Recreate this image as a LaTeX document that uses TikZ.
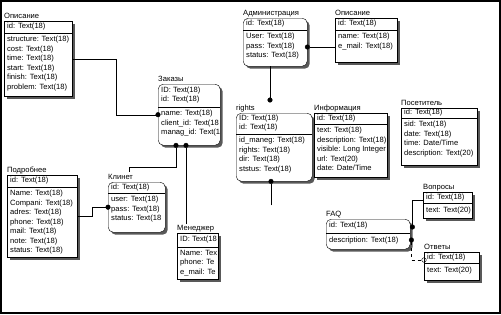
\documentclass[tikz,border=0pt]{standalone}
\usepackage{fontspec}
\setmainfont{Liberation Sans}
\usepackage{tikz}
\usetikzlibrary{arrows.meta,calc,shadows}
\newcommand{\entfont}{\fontsize{7.6pt}{9.5pt}\selectfont}
% entity: name, style, corner, width, header height, height, title, key, attributes
\newcommand{\entity}[9]{%
  \node[#2, minimum width=#4pt, minimum height=#6pt, anchor=north west] (#1) at #3 {};
  \node[enttitle] (#1-t) at ($(#1.north west)+(0,-2.5)$) {#7};
  \draw ($(#1.north west)+(0,#5)$) -- ($(#1.north east)+(0,#5)$);
  \node[enttext, anchor=west] (#1-k) at ($(#1.north west)+(0,#5/2)$) {#8};
  \node[enttext, anchor=north west, inner ysep=3pt] (#1-a) at ($(#1.north west)+(0,#5)$) {#9};
}

\begin{document}
\begin{tikzpicture}[x=1pt, y=-1pt,
    ent/.style={draw, fill=white, inner sep=0pt,
                drop shadow={shadow xshift=2.5pt, shadow yshift=-2.5pt, fill=black!65, opacity=1}},
    entr/.style={ent, rounded corners=5pt},
    enttext/.style={inner xsep=3pt, inner ysep=0pt, align=left, font=\entfont,
                    execute at begin node=\strut},
    enttitle/.style={anchor=base west, inner sep=0pt, font=\entfont},
    rel/.style={-{Circle[length=5pt]}, shorten >=-2.5pt},
    relo/.style={{Circle[length=5pt]}-{Circle[open,length=5pt]}, shorten <=-2.5pt, shorten >=-2.5pt, dashed}
  ]
  \useasboundingbox (0,0) rectangle (501,314);
  \draw[line width=2pt] (1,1) rectangle (500,313);

  \entity{opisA}{ent}{(4,21)}{68}{12}{75}{Описание}{id: Text(18)}%
    {structure: Text(18)\\cost: Text(18)\\time: Text(18)\\start: Text(18)\\finish: Text(18)\\problem: Text(18)}
  \entity{zakaz}{entr}{(158,84)}{62}{23}{61}{Заказы}{ID: Text(18)\\id: Text(18)}%
    {name: Text(18)\\client\_id: Text(18\\manag\_id: Text(1}
  \entity{admin}{entr}{(243,18)}{64}{12}{48}{Администрация}{id: Text(18)}%
    {User: Text(18)\\pass: Text(18)\\status: Text(18)}
  \entity{opisB}{ent}{(335,18)}{62}{12}{44}{Описание}{id: Text(18)}%
    {name: Text(18)\\e\_mail: Text(18)}
  \entity{rights}{entr}{(236,113)}{76}{21}{68}{rights}{ID: Text(18)\\id: Text(18)}%
    {id\_maneg: Text(18)\\rights: Text(18)\\dir: Text(18)\\ststus: Text(18)}
  \entity{info}{ent}{(314,113)}{73}{11}{64}{Информация}{id: Text(18)}%
    {text: Text(18)\\description: Text(18)\\visible: Long Integer\\url: Text(20)\\date: Date/Time}
  \entity{posit}{ent}{(401,108)}{76}{10}{57}{Посетитель}{id: Text(18)}%
    {sid: Text(18)\\date: Text(18)\\time: Date/Time\\description: Text(20)}
  \entity{podr}{ent}{(7,175)}{70}{12}{82}{Подробнее}{id: Text(18)}%
    {Name: Text(18)\\Compani: Text(18)\\adres: Text(18)\\phone: Text(18)\\mail: Text(18)\\note: Text(18)\\status: Text(18)}
  \entity{klient}{entr}{(108,182)}{57}{11}{50}{Клинет}{id: Text(18)}%
    {user: Text(18)\\pass: Text(18)\\status: Text(18}
  \entity{menedzh}{ent}{(177,233)}{41}{14}{46}{Менеджер}{ID: Text(18}%
    {Name: Tex\\phone: Te\\e\_mail: Te}
  \entity{faq}{entr}{(326,219)}{84}{14}{30}{FAQ}{id: Text(18)}%
    {description: Text(18)}
  \entity{vopr}{ent}{(423,192)}{49}{11}{26}{Вопросы}{id: Text(18)}%
    {text: Text(20)}
  \entity{otvet}{ent}{(424,252)}{55}{11}{28}{Ответы}{id: Text(18)}%
    {text: Text(20)}

  % relations
  \draw[rel] (opisA.east) -- ++(44,0) |- (zakaz.west);
  \draw[rel] ($(klient.north west)+(21,-10)$) -- ++(0,-5) -| ($(zakaz.south west)+(18,0)$);
  \draw[rel] ($(menedzh.north west)+(9,-9)$) -- ($(zakaz.south west)+(28,0)$);
  \draw[rel] ($(admin.south west)+(27,0)$) -- ($(rights.north west)+(34,-13)$);
  \draw[rel] ($(rights.south west)+(35,24)$) -- ($(rights.south west)+(35,0)$);
  \draw[rel] ($(opisB.north west)+(0,29)$) -- ($(admin.north east)+(0,29)$);
  \draw[rel] (podr.east) -- ++(15,0) |- (klient.west);
  \draw[rel] ($(vopr.north west)+(0,8)$) -| ($(faq.north east)+(2,8)$);
  \draw[relo] ($(faq.north east)+(1,21)$) |- ($(otvet.north west)+(0,8)$);
\end{tikzpicture}
\end{document}
